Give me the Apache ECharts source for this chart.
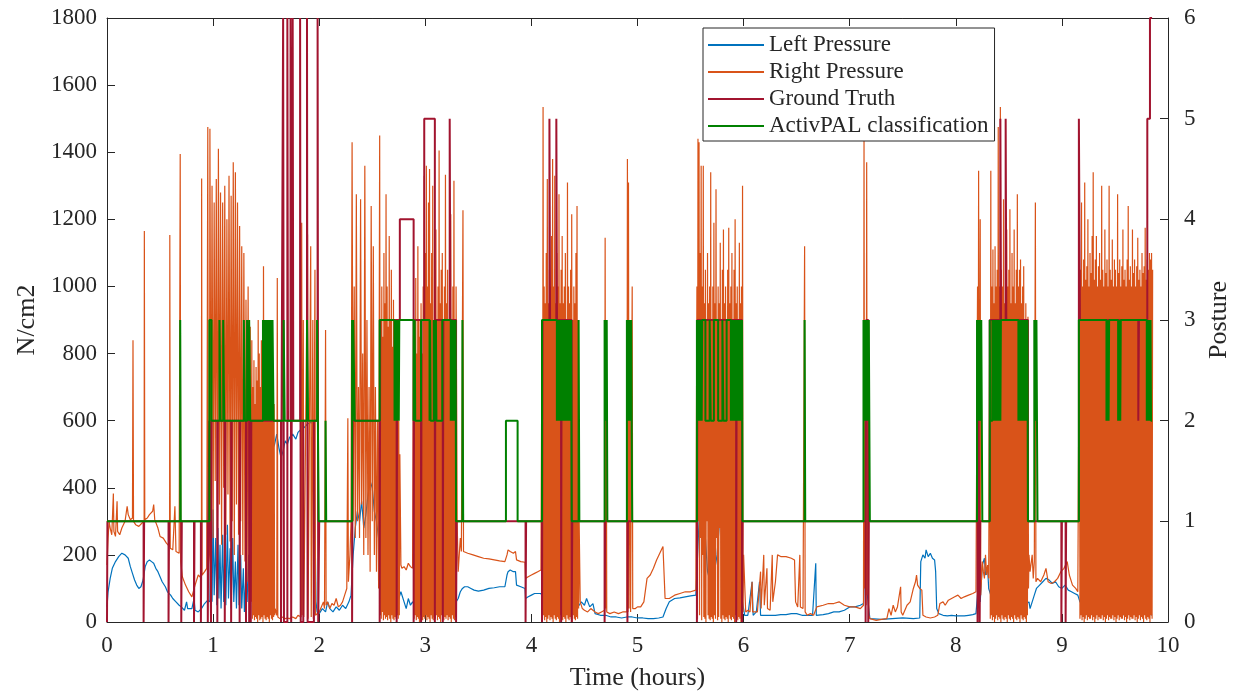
<!DOCTYPE html>
<html>
<head>
<meta charset="utf-8">
<title>Insole pressure and posture</title>
<script src="https://cdn.jsdelivr.net/npm/echarts@6.0.0/dist/echarts.min.js"></script>
<style>
  html, body { margin: 0; padding: 0; background: #fff; }
  #chart { width: 1235px; height: 698px; }
</style>
</head>
<body>
<div id="chart"></div>
<script>
// axis ranges: [min, max, interval]
const timeRange = [0, 10, 1]
const pressureRange = [0, 1800, 200]
const postureRange = [0, 6, 1]

const seriesNames = ['Left Pressure', 'Right Pressure', 'Ground Truth', 'ActivPAL classification']

// left insole, [hours, N/cm2]
const leftPressure = [
  [0, 45], [0.01, 90], [0.03, 130], [0.05, 160], [0.08, 180], [0.11, 195], [0.14, 205], [0.17, 200], [0.2, 190], [0.22, 165],
  [0.24, 145], [0.26, 125], [0.28, 110], [0.3, 100], [0.32, 105], [0.34, 125], [0.36, 165], [0.38, 180], [0.4, 185], [0.42, 180],
  [0.44, 175], [0.46, 160], [0.48, 150], [0.5, 135], [0.52, 120], [0.55, 105], [0.57, 90], [0.6, 80], [0.62, 70], [0.65, 60],
  [0.68, 50], [0.7, 45], [0.73, 35], [0.75, 60], [0.76, 40], [0.8, 40], [0.82, 70], [0.83, 35], [0.86, 30], [0.89, 40],
  [0.92, 55], [0.95, 65], [0.97, 60],
  [0.98, 300], [0.99, 60], [1.0, 335], [1.01, 80], [1.025, 250], [1.035, 50], [1.045, 280], [1.055, 70], [1.065, 230], [1.075, 40],
  [1.09, 260], [1.1, 60], [1.11, 200], [1.12, 50], [1.135, 290], [1.145, 70], [1.16, 220], [1.17, 40], [1.185, 250], [1.195, 60],
  [1.21, 180], [1.22, 40], [1.235, 230], [1.245, 50], [1.26, 200], [1.27, 40], [1.285, 160], [1.295, 30], [1.31, 150], [1.32, 60],
  [1.335, 200], [1.345, 100], [1.36, 250],
  [1.38, 300], [1.42, 380], [1.46, 430], [1.5, 470], [1.54, 500], [1.58, 530], [1.6, 560], [1.62, 520], [1.64, 490], [1.66, 510],
  [1.68, 540], [1.7, 530], [1.72, 550], [1.75, 560], [1.78, 545], [1.8, 565], [1.83, 575], [1.86, 580], [1.89, 590], [1.92, 595],
  [1.95, 590], [1.96, 300], [1.97, 60], [1.98, 30],
  [2.0, 25], [2.03, 40], [2.06, 30], [2.08, 60], [2.1, 40], [2.13, 30], [2.16, 45], [2.19, 35], [2.22, 50], [2.25, 40],
  [2.28, 60], [2.3, 80],
  [2.32, 200], [2.34, 280], [2.36, 330], [2.38, 300], [2.4, 360], [2.42, 280], [2.44, 320], [2.46, 380], [2.48, 420], [2.5, 400],
  [2.52, 330], [2.54, 300], [2.56, 250], [2.57, 150],
  [2.6, 80], [2.65, 60], [2.7, 50], [2.75, 70], [2.77, 90], [2.8, 60], [2.82, 40], [2.84, 70], [2.86, 50], [2.88, 60],
  [2.9, 50], [3.0, 70], [3.1, 60], [3.2, 50], [3.29, 60], [3.31, 70], [3.33, 90], [3.35, 100],
  [3.37, 105], [3.4, 105], [3.43, 100], [3.46, 95], [3.5, 92], [3.55, 95], [3.6, 100], [3.65, 102], [3.7, 105], [3.75, 105],
  [3.77, 140], [3.78, 150], [3.8, 155], [3.83, 150], [3.85, 150], [3.86, 110], [3.9, 105], [3.94, 100], [3.945, 70], [3.97, 75],
  [4.0, 80], [4.03, 85], [4.06, 85], [4.09, 85],
  [4.12, 60], [4.2, 80], [4.3, 50], [4.4, 40], [4.45, 50],
  [4.47, 60], [4.5, 50], [4.52, 70], [4.55, 45], [4.58, 55], [4.6, 25], [4.65, 20], [4.7, 20], [4.75, 15], [4.8, 15],
  [4.85, 12], [4.9, 15], [4.95, 15], [5.0, 12], [5.05, 12], [5.1, 10], [5.15, 10], [5.2, 12], [5.24, 15], [5.27, 40],
  [5.3, 60], [5.35, 70], [5.4, 72], [5.45, 75], [5.5, 78], [5.55, 80],
  [5.58, 300], [5.6, 365], [5.62, 210], [5.64, 250], [5.66, 150], [5.7, 100], [5.75, 200], [5.78, 330], [5.8, 390], [5.83, 410],
  [5.86, 240], [5.88, 220], [5.92, 150], [5.96, 100], [5.99, 60],
  [6.01, 20], [6.04, 20], [6.08, 120], [6.09, 20], [6.12, 30], [6.15, 120], [6.16, 20], [6.2, 20], [6.25, 20], [6.3, 20],
  [6.35, 22], [6.4, 22], [6.45, 25], [6.5, 25], [6.55, 20], [6.6, 20], [6.65, 20], [6.68, 175], [6.685, 20], [6.7, 20],
  [6.75, 22], [6.8, 25], [6.85, 30], [6.9, 30], [6.95, 35], [7.0, 45], [7.05, 45], [7.1, 50], [7.13, 55],
  [7.14, 176], [7.16, 100], [7.19, 10],
  [7.2, 10], [7.3, 8], [7.4, 10], [7.5, 12], [7.6, 10], [7.66, 12], [7.67, 180], [7.69, 200], [7.71, 190], [7.72, 215],
  [7.74, 195], [7.76, 205], [7.78, 190], [7.8, 185], [7.81, 150], [7.82, 40], [7.84, 25], [7.88, 20], [7.92, 18], [7.96, 20],
  [8.0, 18], [8.04, 18], [8.08, 18], [8.12, 20], [8.16, 22], [8.19, 25],
  [8.21, 100], [8.23, 60], [8.25, 170], [8.27, 190], [8.28, 140], [8.3, 160], [8.31, 100],
  [8.35, 60], [8.4, 40], [8.45, 80], [8.5, 30], [8.55, 60], [8.6, 20], [8.65, 50], [8.69, 60],
  [8.7, 40], [8.72, 60], [8.74, 80], [8.76, 100], [8.79, 110], [8.82, 120], [8.85, 130], [8.88, 125], [8.91, 115], [8.94, 120],
  [8.97, 105], [9.0, 100], [9.03, 110], [9.06, 95], [9.09, 90], [9.12, 85], [9.15, 80],
  [9.17, 60], [9.3, 40], [9.5, 30], [9.6, 20], [9.75, 40], [9.85, 20]
]

// right insole outside the walking bouts, [hours, N/cm2]
const rightCalm = [
  [0, 170], [0.01, 250], [0.02, 300], [0.03, 280], [0.045, 260], [0.06, 383], [0.065, 270], [0.08, 255], [0.095, 360], [0.1, 270],
  [0.12, 260], [0.14, 280], [0.17, 300], [0.19, 345], [0.2, 320], [0.22, 305], [0.24, 310], [0.245, 840], [0.25, 300], [0.27, 290],
  [0.3, 285], [0.33, 295], [0.35, 300], [0.352, 1165], [0.356, 305], [0.38, 310], [0.4, 320], [0.43, 330], [0.44, 350], [0.45, 305],
  [0.48, 280], [0.5, 255], [0.53, 250], [0.56, 235], [0.59, 225], [0.592, 1153], [0.596, 220], [0.62, 215], [0.64, 345], [0.65, 210],
  [0.68, 205], [0.69, 1395], [0.695, 180], [0.71, 135], [0.74, 110], [0.77, 90], [0.8, 75], [0.83, 110], [0.86, 140], [0.89, 130],
  [0.892, 1322], [0.896, 140], [0.92, 150], [0.94, 160], [0.95, 1475], [0.955, 170], [0.965, 200],
  [1.585, 40], [1.6, 20], [1.605, 1025], [1.61, 15], [1.63, 10], [1.65, 15], [1.68, 10], [1.7, 12], [1.72, 10], [1.75, 15],
  [1.78, 10], [1.8, 20], [1.83, 15], [1.835, 1190], [1.84, 20], [1.85, 900], [1.855, 15], [1.87, 10], [1.89, 1155], [1.895, 10],
  [1.92, 1120], [1.925, 15], [1.94, 900], [1.945, 10], [1.96, 1050], [1.965, 20], [1.98, 25],
  [2.0, 30], [2.02, 45], [2.04, 60], [2.05, 40], [2.06, 870], [2.065, 50], [2.08, 60], [2.1, 40], [2.12, 55], [2.14, 50],
  [2.16, 70], [2.18, 45], [2.2, 50], [2.22, 60], [2.24, 80], [2.26, 100], [2.27, 607], [2.275, 120], [2.29, 200], [2.3, 300],
  [2.77, 170], [2.78, 160], [2.8, 165], [2.82, 155], [2.84, 175], [2.86, 165], [2.88, 160],
  [3.3, 300], [3.31, 150], [3.32, 200], [3.33, 250], [3.34, 210], [3.355, 1227], [3.36, 210], [3.37, 212], [3.4, 205], [3.45, 200],
  [3.5, 195], [3.55, 190], [3.6, 188], [3.65, 185], [3.7, 182], [3.75, 180], [3.77, 200], [3.78, 215], [3.8, 210], [3.83, 205],
  [3.85, 210], [3.86, 185], [3.9, 180], [3.94, 178], [3.945, 130], [3.97, 135], [4.0, 140], [4.03, 145], [4.06, 150], [4.09, 155],
  [4.46, 60], [4.48, 40], [4.5, 35], [4.53, 30], [4.56, 40], [4.6, 30], [4.63, 25], [4.66, 30], [4.69, 35], [4.695, 1145],
  [4.7, 40], [4.705, 900], [4.71, 30], [4.74, 25], [4.78, 30], [4.82, 25], [4.86, 30], [4.9, 30], [4.905, 1380], [4.91, 30],
  [4.915, 1310], [4.92, 40], [4.93, 900], [4.935, 30], [4.95, 1000], [4.955, 40], [4.98, 40], [5.0, 45], [5.03, 45], [5.06, 60],
  [5.09, 130], [5.12, 140], [5.15, 160], [5.18, 185], [5.21, 205], [5.24, 225], [5.25, 230], [5.26, 70], [5.3, 70], [5.35, 80],
  [5.4, 85], [5.45, 90], [5.5, 90], [5.55, 95],
  [6.02, 30], [6.04, 35], [6.06, 30], [6.08, 120], [6.085, 30], [6.1, 35], [6.13, 30], [6.16, 150], [6.165, 40], [6.19, 200],
  [6.195, 50], [6.22, 160], [6.225, 40], [6.25, 35], [6.27, 200], [6.275, 60], [6.3, 120], [6.32, 200], [6.35, 195], [6.4, 195],
  [6.45, 190], [6.48, 185], [6.49, 60], [6.51, 45], [6.53, 200], [6.535, 45], [6.56, 40], [6.575, 1120], [6.58, 30], [6.6, 20],
  [6.63, 25], [6.66, 20], [6.69, 45], [6.75, 50], [6.8, 55], [6.85, 55], [6.9, 60], [6.95, 50], [7.0, 45], [7.05, 45],
  [7.1, 40], [7.13, 50], [7.135, 1440], [7.14, 100], [7.15, 900], [7.155, 50], [7.16, 1370], [7.165, 80], [7.175, 700], [7.18, 20],
  [7.19, 10], [7.25, 5], [7.3, 8], [7.35, 10], [7.37, 40], [7.39, 20], [7.41, 50], [7.43, 30], [7.45, 45], [7.48, 105],
  [7.485, 30], [7.5, 20], [7.54, 50], [7.57, 60], [7.6, 100], [7.62, 120], [7.63, 140], [7.64, 110], [7.66, 100], [7.68, 95],
  [7.69, 20], [7.72, 15], [7.76, 12], [7.8, 15], [7.83, 20], [7.85, 55], [7.88, 60], [7.9, 50], [7.93, 65], [7.96, 70],
  [7.99, 75], [8.02, 80], [8.05, 70], [8.08, 75], [8.12, 80], [8.16, 85], [8.19, 90],
  [8.2, 90], [8.205, 1000], [8.21, 60], [8.215, 1345], [8.22, 50], [8.23, 1200], [8.235, 80], [8.25, 180], [8.26, 150], [8.27, 130],
  [8.28, 200], [8.29, 140], [8.3, 170], [8.31, 130],
  [8.7, 150], [8.72, 200], [8.73, 130], [8.74, 180], [8.75, 1250], [8.755, 120], [8.77, 130], [8.8, 120], [8.83, 140], [8.85, 160],
  [8.87, 120], [8.9, 115], [8.93, 120], [8.96, 130], [8.99, 150], [9.02, 160], [9.05, 180], [9.07, 140], [9.1, 110], [9.13, 100],
  [9.15, 90]
]

// walking bouts of the right insole: samples alternate peak / trough, one half step apart
const burstStart = [0.97, 1.365, 2.31, 2.57, 2.89, 4.10, 5.56, 8.32, 9.165]
const burstHalfStep = [0.01, 0.005, 0.01, 0.005, 0.005, 0.005, 0.005, 0.005, 0.005]
const burstPeaks = [
  [1470, 1300, 1250, 1320, 1410, 1280, 1250, 1300, 1200, 1330, 1270, 1370, 1340, 1250, 1180, 1120, 1100, 960, 1000, 880],
  [840, 700, 780, 650, 760, 720, 900, 800, 700, 840, 780, 1060, 750, 820, 700, 860, 780, 740, 680, 720, 700, 650],
  [1430, 1000, 1275, 700, 1260, 800, 1360, 900, 700, 1240, 1120, 700, 600],
  [1450, 900, 1000, 850, 1100, 950, 1275, 1000, 880, 1150, 900, 1050, 820, 960, 800, 900, 850, 700, 600, 500],
  [900, 850, 1025, 800, 1120, 900, 850, 950, 800, 1000, 1330, 1100, 1360, 1000, 1250, 1350, 950, 1100, 1300, 900,
    1050, 1170, 900, 1000, 1405, 950, 1050, 1100, 900, 1000, 1333, 950, 1050, 900, 1000, 1215, 900, 1000, 1315, 800, 1000],
  [900, 1535, 1000, 950, 1100, 1320, 950, 1050, 1000, 1150, 1380, 1000, 1330, 950, 1100, 1000, 1275, 950, 1050, 1150,
    950, 1000, 1100, 900, 1310, 1000, 950, 1050, 1215, 900, 1000, 950, 1100, 1240, 900, 300],
  [1000, 1440, 1430, 1100, 1360, 1000, 1360, 950, 1050, 900, 1100, 950, 1000, 1340, 900, 1000, 1190, 950, 1290, 900,
    1000, 950, 1130, 900, 1050, 1170, 950, 1000, 900, 1050, 1175, 950, 1000, 1100, 900, 1050, 1200, 950, 1000, 900,
    1130, 950, 1000, 1300, 200],
  [900, 1345, 1000, 1110, 950, 1120, 1000, 1050, 1475, 1000, 1535, 1050, 1000, 1260, 950, 1100, 1170, 1000, 1050, 1230,
    950, 1100, 1000, 1170, 950, 1050, 1275, 1000, 1050, 1080, 950, 1000, 1060, 900, 950, 850, 910, 200],
  [1000, 1050, 1250, 1000, 1080, 1310, 1020, 1060, 1200, 1000, 1100, 1040, 1150, 1340, 1020, 1080, 1150, 1000, 1060, 1100,
    1020, 1300, 1050, 1000, 1170, 1040, 1080, 1000, 1300, 1050, 1020, 1140, 1000, 1080, 1050, 1000, 1275, 1040, 1080, 1000,
    1060, 1170, 1020, 1050, 1000, 1080, 1240, 1020, 1060, 1000, 1170, 1040, 1080, 1000, 1060, 1145, 1020, 1050, 1000, 1100,
    1040, 1060, 1175, 1020, 1080, 1050, 1100, 1080, 1100, 1050]
]
const burstTroughs = [
  [300, 250, 420, 200, 350, 230, 400, 260, 380, 240, 300, 200, 350, 260, 300, 200, 180, 120, 90, 60],
  [10, 20, 5, 15, 10, 0, 20, 5, 10, 15, 0, 20, 10, 5, 15, 10, 0, 20, 10, 5, 15, 20],
  [300, 250, 300, 250, 350, 200, 250, 200, 150, 300, 200, 150, 100],
  [20, 10, 30, 5, 20, 10, 15, 5, 20, 10, 0, 20, 10, 5, 15, 10, 20, 10, 20],
  [10, 20, 5, 15, 10, 0, 20, 10, 5, 15, 10, 20, 5, 15, 10, 0, 20, 10, 5, 15,
    10, 20, 5, 15, 10, 0, 20, 10, 5, 15, 10, 20, 5, 15, 10, 0, 20, 10, 5, 15],
  [10, 20, 5, 15, 0, 10, 20, 5, 15, 10, 0, 20, 10, 5, 15, 10, 0, 20, 10, 5,
    15, 10, 0, 20, 10, 5, 15, 10, 0, 20, 10, 5, 15, 10, 40],
  [10, 300, 20, 250, 5, 200, 15, 10, 0, 300, 20, 10, 5, 15, 10, 0, 20, 10, 250, 5,
    15, 280, 10, 0, 20, 10, 5, 15, 10, 0, 20, 10, 5, 15, 10, 0, 20, 10, 5, 15, 10, 0, 20, 30],
  [10, 20, 5, 15, 0, 10, 20, 5, 15, 10, 0, 20, 10, 5, 15, 10, 0, 20, 10, 5,
    15, 10, 0, 20, 10, 5, 15, 10, 0, 20, 10, 5, 15, 10, 0, 20, 100],
  [10, 20, 5, 15, 0, 10, 20, 5, 15, 10, 10, 20, 5, 15, 0, 10, 20, 5, 15, 10,
    10, 20, 5, 15, 0, 10, 20, 5, 15, 10, 10, 20, 5, 15, 0, 10, 20, 5, 15, 10,
    10, 20, 5, 15, 0, 10, 20, 5, 15, 10, 10, 20, 5, 15, 0, 10, 20, 5, 15, 10,
    0, 20, 10, 5, 15, 10, 0, 20, 10]
]

// posture codes as change points [hours, code]
const groundTruth = [
  [0, 0], [0.004, 1], [0.345, 0], [0.35, 1], [0.58, 0], [0.585, 1], [0.7, 0], [0.705, 1], [0.82, 0], [0.825, 1],
  [0.885, 0], [0.89, 1], [0.95, 0], [0.955, 1],
  [0.965, 2], [0.98, 0], [0.985, 2], [1.04, 0], [1.045, 2], [1.11, 0], [1.115, 2], [1.17, 0], [1.175, 2], [1.25, 0],
  [1.255, 2], [1.31, 0], [1.315, 2], [1.34, 0], [1.345, 2], [1.355, 0], [1.36, 2],
  [1.64, 0], [1.645, 2], [1.66, 6], [1.668, 0], [1.7, 6], [1.706, 2], [1.73, 6], [1.736, 0], [1.75, 6], [1.756, 2],
  [1.82, 6], [1.826, 0], [1.85, 2], [1.885, 6], [1.891, 0], [1.95, 2], [1.985, 6], [1.991, 0], [2.0, 1],
  [2.31, 0], [2.315, 2], [2.57, 0], [2.575, 3], [2.73, 0], [2.735, 3], [2.76, 4], [2.89, 0], [2.895, 3], [2.96, 0],
  [2.965, 3], [2.99, 5], [3.09, 0], [3.095, 3], [3.165, 0], [3.17, 3], [3.23, 5], [3.236, 3], [3.29, 0], [3.295, 1],
  [3.945, 0], [3.95, 1], [4.1, 0], [4.105, 3], [4.17, 5], [4.176, 3], [4.235, 5], [4.241, 3], [4.28, 0], [4.285, 3],
  [4.38, 0], [4.385, 1], [4.69, 0], [4.695, 1], [4.905, 0], [4.91, 1],
  [5.56, 0], [5.565, 3], [5.93, 0], [5.935, 3], [5.985, 0], [5.99, 1],
  [7.15, 0], [7.155, 3], [7.175, 0], [7.18, 1], [8.205, 0], [8.21, 3], [8.225, 0], [8.23, 1],
  [8.32, 3], [8.42, 5], [8.426, 3], [8.47, 5], [8.476, 3], [8.68, 1],
  [8.995, 0], [9.0, 1], [9.035, 0], [9.04, 1],
  [9.16, 5], [9.17, 3], [9.72, 2], [9.726, 3], [9.805, 5], [9.83, 6], [9.85, 6]
]

const activPAL = [
  [0, 1], [0.69, 3], [0.695, 1],
  [0.965, 3], [0.985, 2], [1.06, 3], [1.07, 2], [1.095, 3], [1.105, 2], [1.29, 3], [1.3, 2], [1.32, 3], [1.335, 2],
  [1.34, 3], [1.35, 2],
  [1.47, 3], [1.48, 2], [1.485, 3], [1.49, 2], [1.5, 3], [1.505, 2], [1.51, 3], [1.52, 2], [1.525, 3], [1.53, 2],
  [1.535, 3], [1.545, 2], [1.55, 3], [1.555, 2], [1.56, 3], [1.57, 2],
  [1.665, 3], [1.675, 2], [1.885, 3], [1.895, 2], [1.98, 3], [1.995, 1],
  [2.06, 2], [2.066, 1],
  [2.31, 3], [2.315, 2], [2.32, 3], [2.335, 2],
  [2.57, 3], [2.71, 2], [2.715, 3], [2.72, 2], [2.725, 3], [2.73, 2], [2.735, 3], [2.74, 2], [2.745, 3], [2.75, 2],
  [2.755, 3],
  [2.89, 2], [2.9, 3], [2.905, 2], [2.96, 3],
  [3.04, 2], [3.045, 3], [3.05, 2], [3.08, 3], [3.085, 2], [3.1, 3], [3.105, 2], [3.16, 3],
  [3.24, 2], [3.245, 3], [3.25, 2], [3.255, 3], [3.26, 2], [3.265, 3], [3.27, 2], [3.275, 3], [3.28, 2], [3.285, 3],
  [3.29, 1], [3.35, 3], [3.357, 1],
  [3.76, 2], [3.87, 1],
  [4.10, 3], [4.24, 2], [4.245, 3], [4.25, 2], [4.255, 3], [4.26, 2], [4.265, 3], [4.27, 2], [4.275, 3], [4.28, 2],
  [4.285, 3], [4.29, 2], [4.295, 3], [4.3, 2], [4.305, 3], [4.31, 2], [4.315, 3], [4.32, 2], [4.325, 3], [4.33, 2],
  [4.335, 3], [4.34, 2], [4.345, 3], [4.35, 2], [4.355, 3], [4.36, 2], [4.365, 3], [4.37, 2], [4.375, 3], [4.38, 1],
  [4.445, 3], [4.452, 1],
  [4.69, 3], [4.695, 2], [4.7, 3], [4.705, 2], [4.71, 3], [4.716, 1],
  [4.9, 3], [4.905, 2], [4.91, 3], [4.915, 2], [4.92, 3], [4.925, 2], [4.93, 3], [4.935, 2], [4.94, 3], [4.945, 2],
  [4.95, 1],
  [5.56, 3], [5.565, 2], [5.57, 3], [5.575, 2], [5.58, 3], [5.585, 2], [5.59, 3], [5.595, 2], [5.6, 3], [5.605, 2],
  [5.61, 3], [5.64, 2], [5.68, 3], [5.69, 2], [5.72, 3], [5.76, 2], [5.8, 3], [5.81, 2], [5.84, 3], [5.88, 2],
  [5.885, 3], [5.89, 2], [5.895, 3], [5.9, 2], [5.905, 3], [5.91, 2], [5.915, 3], [5.92, 2], [5.925, 3], [5.93, 2],
  [5.935, 3], [5.94, 2], [5.945, 3], [5.95, 2], [5.955, 3], [5.96, 2], [5.965, 3], [5.97, 2], [5.975, 3], [5.98, 2],
  [5.985, 3], [5.99, 1],
  [6.575, 3], [6.581, 1],
  [7.13, 3], [7.135, 2], [7.14, 3], [7.145, 2], [7.15, 3], [7.155, 2], [7.16, 3], [7.165, 2], [7.17, 3], [7.175, 2],
  [7.18, 3], [7.185, 2], [7.19, 1],
  [8.2, 3], [8.205, 2], [8.21, 3], [8.215, 2], [8.22, 3], [8.225, 2], [8.23, 3], [8.235, 2], [8.24, 3], [8.245, 2],
  [8.25, 1],
  [8.32, 3], [8.325, 2], [8.345, 3], [8.35, 2], [8.355, 3], [8.36, 2], [8.365, 3], [8.37, 2], [8.375, 3], [8.38, 2],
  [8.385, 3], [8.39, 2], [8.395, 3], [8.4, 2], [8.405, 3], [8.41, 2], [8.415, 3], [8.42, 2], [8.425, 3],
  [8.59, 2], [8.595, 3], [8.6, 2], [8.605, 3], [8.61, 2], [8.615, 3], [8.62, 2], [8.625, 3], [8.63, 2], [8.635, 3],
  [8.64, 2], [8.645, 3], [8.65, 2], [8.655, 3], [8.66, 2], [8.665, 3], [8.67, 2], [8.675, 3], [8.68, 1],
  [8.74, 3], [8.745, 2], [8.75, 3], [8.755, 2], [8.76, 3], [8.765, 2], [8.77, 1],
  [9.16, 3], [9.42, 2], [9.425, 3], [9.43, 2], [9.435, 3], [9.44, 2], [9.445, 3],
  [9.53, 2], [9.535, 3], [9.54, 2], [9.545, 3], [9.55, 2], [9.555, 3],
  [9.8, 2], [9.805, 3], [9.81, 2], [9.815, 3], [9.82, 2], [9.825, 3], [9.83, 2], [9.835, 3], [9.84, 2], [9.85, 2]
]

// join the calm stretches and the walking bouts into one time-ordered trace
function buildRightPressure () {
  const pts = rightCalm.slice()
  burstStart.forEach(function (t0, k) {
    const h = burstHalfStep[k]
    burstPeaks[k].forEach(function (v, i) {
      pts.push([+(t0 + 2 * i * h).toFixed(4), v])
      if (i < burstTroughs[k].length) {
        pts.push([+(t0 + (2 * i + 1) * h).toFixed(4), burstTroughs[k][i]])
      }
    })
  })
  return pts.sort(function (a, b) { return a[0] - b[0] })
}

const FONT = '"Liberation Serif", "Times New Roman", serif'
const INK = '#262626'

const axisCommon = {
  axisLine: { show: true, onZero: false, lineStyle: { color: INK, width: 1 } },
  axisTick: { show: true, inside: true, length: 8, lineStyle: { color: INK } },
  splitLine: { show: false }
}
const plainNumber = function (v) { return String(v) }

const myChart = echarts.init(document.getElementById('chart'))
const option = {
  animation: false,
  backgroundColor: '#ffffff',
  grid: { left: 107, right: 67, top: 18, bottom: 76, outerBoundsMode: 'none' },
  legend: {
    orient: 'vertical',
    left: 703,
    top: 28,
    padding: [5, 6, 3, 4],
    itemGap: 3,
    itemWidth: 56,
    itemHeight: 6,
    // line only, no marker in the key
    itemStyle: { opacity: 0 },
    backgroundColor: '#ffffff',
    borderColor: INK,
    borderWidth: 1,
    textStyle: { fontFamily: FONT, fontSize: 23, color: INK, lineHeight: 24 },
    data: seriesNames
  },
  xAxis: [
    Object.assign({
      type: 'value',
      min: timeRange[0],
      max: timeRange[1],
      interval: timeRange[2],
      position: 'bottom',
      name: 'Time (hours)',
      nameLocation: 'middle',
      nameGap: 43,
      nameTextStyle: { fontFamily: FONT, fontSize: 26, color: INK },
      axisLabel: { fontFamily: FONT, fontSize: 23, color: INK, margin: 12, formatter: plainNumber }
    }, axisCommon),
    Object.assign({
      type: 'value',
      min: timeRange[0],
      max: timeRange[1],
      interval: timeRange[2],
      position: 'top',
      axisLabel: { show: false }
    }, axisCommon)
  ],
  yAxis: [
    Object.assign({
      type: 'value',
      min: pressureRange[0],
      max: pressureRange[1],
      interval: pressureRange[2],
      position: 'left',
      name: 'N/cm2',
      nameLocation: 'middle',
      nameRotate: 90,
      nameGap: 53,
      nameTextStyle: { fontFamily: FONT, fontSize: 26, color: INK },
      axisLabel: { fontFamily: FONT, fontSize: 23, color: INK, margin: 10, formatter: plainNumber }
    }, axisCommon),
    Object.assign({
      type: 'value',
      min: postureRange[0],
      max: postureRange[1],
      interval: postureRange[2],
      position: 'right',
      name: 'Posture',
      nameLocation: 'middle',
      nameRotate: 90,
      nameGap: 30,
      nameTextStyle: { fontFamily: FONT, fontSize: 26, color: INK },
      axisLabel: { fontFamily: FONT, fontSize: 23, color: INK, margin: 16, formatter: plainNumber }
    }, axisCommon)
  ],
  series: [
    {
      name: seriesNames[0],
      type: 'line',
      xAxisIndex: 0,
      yAxisIndex: 0,
      data: leftPressure,
      symbol: 'none',
      silent: true,
      lineStyle: { color: '#0072BD', width: 1.2 },
      itemStyle: { color: '#0072BD' }
    },
    {
      name: seriesNames[1],
      type: 'line',
      xAxisIndex: 0,
      yAxisIndex: 0,
      data: buildRightPressure(),
      symbol: 'none',
      silent: true,
      lineStyle: { color: '#D95319', width: 1.2 },
      itemStyle: { color: '#D95319' }
    },
    {
      name: seriesNames[2],
      type: 'line',
      xAxisIndex: 0,
      yAxisIndex: 1,
      step: 'end',
      data: groundTruth,
      symbol: 'none',
      silent: true,
      lineStyle: { color: '#A2142F', width: 2 },
      itemStyle: { color: '#A2142F' }
    },
    {
      name: seriesNames[3],
      type: 'line',
      xAxisIndex: 0,
      yAxisIndex: 1,
      step: 'end',
      data: activPAL,
      symbol: 'none',
      silent: true,
      lineStyle: { color: '#008000', width: 2 },
      itemStyle: { color: '#008000' }
    }
  ]
}
myChart.setOption(option)
</script>
</body>
</html>
